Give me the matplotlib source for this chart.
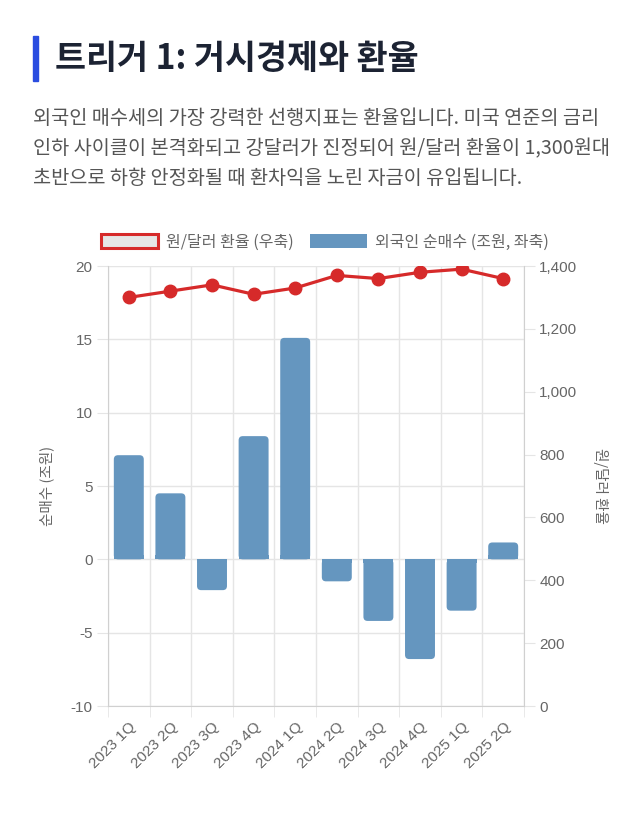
import matplotlib
matplotlib.use('Agg')
import matplotlib.pyplot as plt
from matplotlib.patches import Patch, FancyBboxPatch, Rectangle

plt.rcParams['font.family'] = ['Noto Sans CJK KR', 'DejaVu Sans']
plt.rcParams['axes.unicode_minus'] = False

quarters = ['2023 1Q', '2023 2Q', '2023 3Q', '2023 4Q', '2024 1Q',
            '2024 2Q', '2024 3Q', '2024 4Q', '2025 1Q', '2025 2Q']
net_buy = [7.1, 4.5, -2.1, 8.4, 15.1, -1.5, -4.2, -6.8, -3.5, 1.15]
fx_rate = [1300, 1320, 1340, 1310, 1330, 1370, 1360, 1380, 1390, 1360]

bar_color = '#6596bf'
line_color = '#d62a2a'
tick_color = '#666666'
grid_color = '#e5e5e5'
num_font = ['Liberation Sans', 'DejaVu Sans']

W, H = 628, 816
fig = plt.figure(figsize=(W / 100, H / 100), dpi=100)

# header
fig.patches.append(Rectangle((33 / W, 1 - 81 / H), 4.5 / W, 45 / H,
                             transform=fig.transFigure, color='#2b4de0'))
fig.text(55 / W, 1 - 59 / H, '트리거 1: 거시경제와 환율', fontsize=24.3,
         fontweight='bold', color='#1c2333', va='center')
para = ['외국인 매수세의 가장 강력한 선행지표는 환율입니다. 미국 연준의 금리',
        '인하 사이클이 본격화되고 강달러가 진정되어 원/달러 환율이 1,300원대',
        '초반으로 하향 안정화될 때 환차익을 노린 자금이 유입됩니다.']
for i, line in enumerate(para):
    fig.text(33 / W, 1 - (119 + i * 30) / H, line, fontsize=14.2,
             color='#555555', va='center')

ax = fig.add_axes([108 / W, 1 - 706 / H, 416 / W, 440 / H])
x = list(range(len(quarters)))
bw = 0.72
r_x = 0.1
asp = (30 / 440) / (10 / 416)

for xi, v in zip(x, net_buy):
    y0 = min(0, v)
    h = abs(v)
    ax.add_patch(FancyBboxPatch((xi - bw / 2, y0), bw, h,
                                boxstyle=f'round,pad=0,rounding_size={r_x}',
                                mutation_aspect=asp, facecolor=bar_color,
                                edgecolor='none', zorder=2))
    # square off the base corners
    sq = min(h / 2, r_x * asp)
    base_y = 0 if v >= 0 else -sq
    ax.add_patch(Rectangle((xi - bw / 2, base_y), bw, sq, facecolor=bar_color,
                           edgecolor='none', zorder=2))

ax.set_xlim(-0.5, len(quarters) - 0.5)
ax.set_ylim(-10, 20)
ax.set_yticks([-10, -5, 0, 5, 10, 15, 20])
ax.set_xticks(x)
ax.set_xticklabels(quarters, rotation=45, ha='right', rotation_mode='anchor',
                   family=num_font)
for t in ax.get_yticklabels():
    t.set_family(num_font)
ax.set_xticks([i - 0.5 for i in range(len(quarters) + 1)], minor=True)
ax.tick_params(axis='x', which='major', length=0, pad=10, labelsize=11,
               labelcolor=tick_color)
ax.tick_params(axis='x', which='minor', length=8, color=grid_color)
ax.tick_params(axis='y', length=8, color=grid_color, labelsize=11,
               labelcolor=tick_color, pad=3)
ax.grid(True, axis='y', color=grid_color, lw=1, zorder=0)
ax.grid(True, axis='x', which='minor', color=grid_color, lw=1, zorder=0)
for s in ['top', 'right']:
    ax.spines[s].set_visible(False)
for s in ['left', 'bottom']:
    ax.spines[s].set_color('#d0d0d0')
ax.set_ylabel('순매수 (조원)', fontsize=10.5, color=tick_color, labelpad=12)

ax2 = ax.twinx()
ax2.plot(x, fx_rate, color=line_color, lw=2.3, marker='o', markersize=9,
         zorder=3)
ax2.set_ylim(0, 1400)
ax2.set_yticks(range(0, 1401, 200))
ax2.set_yticklabels([f'{v:,}' for v in range(0, 1401, 200)], family=num_font)
ax2.tick_params(axis='y', length=8, color=grid_color, labelsize=11,
                labelcolor=tick_color, pad=3)
for s in ['top', 'left', 'bottom']:
    ax2.spines[s].set_visible(False)
ax2.spines['right'].set_color('#d0d0d0')
ax2.set_ylabel('원/달러 환율', fontsize=10.5, color=tick_color, rotation=270,
               labelpad=22)

handles = [Patch(facecolor='#e6e6e6', edgecolor=line_color, lw=2.2),
           Patch(facecolor=bar_color, edgecolor='none')]
labels = ['원/달러 환율 (우축)', '외국인 순매수 (조원, 좌축)']
leg = fig.legend(handles, labels, loc='center', bbox_to_anchor=(325 / W, 1 - 242 / H),
                 ncol=2, frameon=False, fontsize=11.5, handlelength=3.6,
                 handleheight=0.9, columnspacing=1.0, handletextpad=0.5)
for t in leg.get_texts():
    t.set_color(tick_color)

fig.savefig('out.png', dpi=100)
